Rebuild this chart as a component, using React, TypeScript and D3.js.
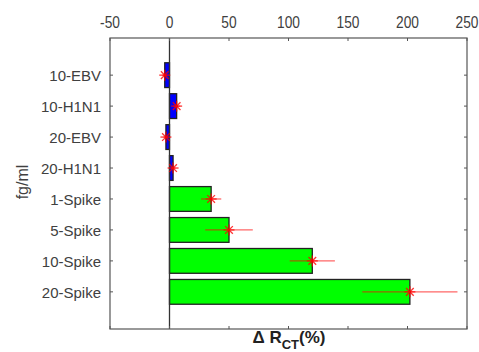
import React from "react";
import * as d3 from "d3";

const categories = ["10-EBV", "10-H1N1", "20-EBV", "20-H1N1", "1-Spike", "5-Spike", "10-Spike", "20-Spike"];
const values = [-4, 6, -3, 3, 35, 50, 120, 202];
const errors = [2, 3, 2, 2, 8.5, 20, 19, 40];
const barColors = ["#0000ff", "#0000ff", "#0000ff", "#0000ff", "#00ff00", "#00ff00", "#00ff00", "#00ff00"];
const xTicks = [-50, 0, 50, 100, 150, 200, 250];

const W = 479, H = 352;
const L = 110, R = 467, T = 38, B = 329;

export default function App() {
  const x = d3.scaleLinear().domain([-50, 250]).range([L, R]);
  const y = d3.scaleLinear().domain([-0.2, 9.2]).range([T, B]);
  const bw = (y(1) - y(0)) * 0.8;
  const axisColor = "#555";
  const textColor = "#404040";
  const font = "'Liberation Sans', Arial, sans-serif";
  return (
    <svg width={W} height={H} style={{ position: "absolute", left: 0, top: 0 }} fontFamily={font}>
      <rect x={0} y={0} width={W} height={H} fill="#fff" />
      {/* bars */}
      {values.map((v, i) => (
        <rect key={"b" + i}
          x={Math.min(x(0), x(v))} y={y(i + 1) - bw / 2}
          width={Math.abs(x(v) - x(0))} height={bw}
          fill={barColors[i]} stroke="#222" strokeWidth={1.3} />
      ))}
      {/* zero line */}
      <line x1={x(0)} x2={x(0)} y1={T} y2={B} stroke="#333" strokeWidth={1.3} />
      {/* error bars */}
      {values.map((v, i) => {
        const cy = y(i + 1);
        const cx = x(v);
        const s = 5.5;
        return (
          <g key={"e" + i} stroke="#ff0000" strokeWidth={1.3}>
            <line x1={x(v - errors[i])} x2={x(v + errors[i])} y1={cy} y2={cy} strokeOpacity={0.6} />
            <line x1={cx - s} x2={cx + s} y1={cy} y2={cy} strokeOpacity={0.8} />
            <line x1={cx} x2={cx} y1={cy - s} y2={cy + s} strokeOpacity={0.8} />
            <line x1={cx - s * 0.7} x2={cx + s * 0.7} y1={cy - s * 0.7} y2={cy + s * 0.7} strokeOpacity={0.8} />
            <line x1={cx - s * 0.7} x2={cx + s * 0.7} y1={cy + s * 0.7} y2={cy - s * 0.7} strokeOpacity={0.8} />
          </g>
        );
      })}
      {/* box */}
      <rect x={L} y={T} width={R - L} height={B - T} fill="none" stroke={axisColor} strokeWidth={1.2} />
      {/* x ticks */}
      {xTicks.map((t) => (
        <g key={"xt" + t}>
          <line x1={x(t)} x2={x(t)} y1={T} y2={T + 3} stroke={axisColor} />
          <line x1={x(t)} x2={x(t)} y1={B} y2={B - 3} stroke={axisColor} />
          <text transform={`translate(${x(t)},28) scale(0.86,1)`} textAnchor="middle" fontSize={16} fill={textColor}>{t}</text>
        </g>
      ))}
      {/* y ticks */}
      {categories.map((c, i) => (
        <g key={"yt" + i}>
          <line x1={L} x2={L + 3} y1={y(i + 1)} y2={y(i + 1)} stroke={axisColor} />
          <line x1={R} x2={R - 3} y1={y(i + 1)} y2={y(i + 1)} stroke={axisColor} />
          <text x={101} y={y(i + 1) + 6} textAnchor="end" fontSize={15} fill={textColor}>{c}</text>
        </g>
      ))}
      <text transform={`translate(28,${182}) rotate(-90)`} textAnchor="middle" fontSize={16} fill={textColor}>fg/ml</text>
      <text x={289} y={343} textAnchor="middle" fontSize={17} fontWeight="bold" fill="#222">
        Δ R<tspan fontSize={13} dy={6}>CT</tspan><tspan dy={-6}>(%)</tspan>
      </text>
    </svg>
  );
}
